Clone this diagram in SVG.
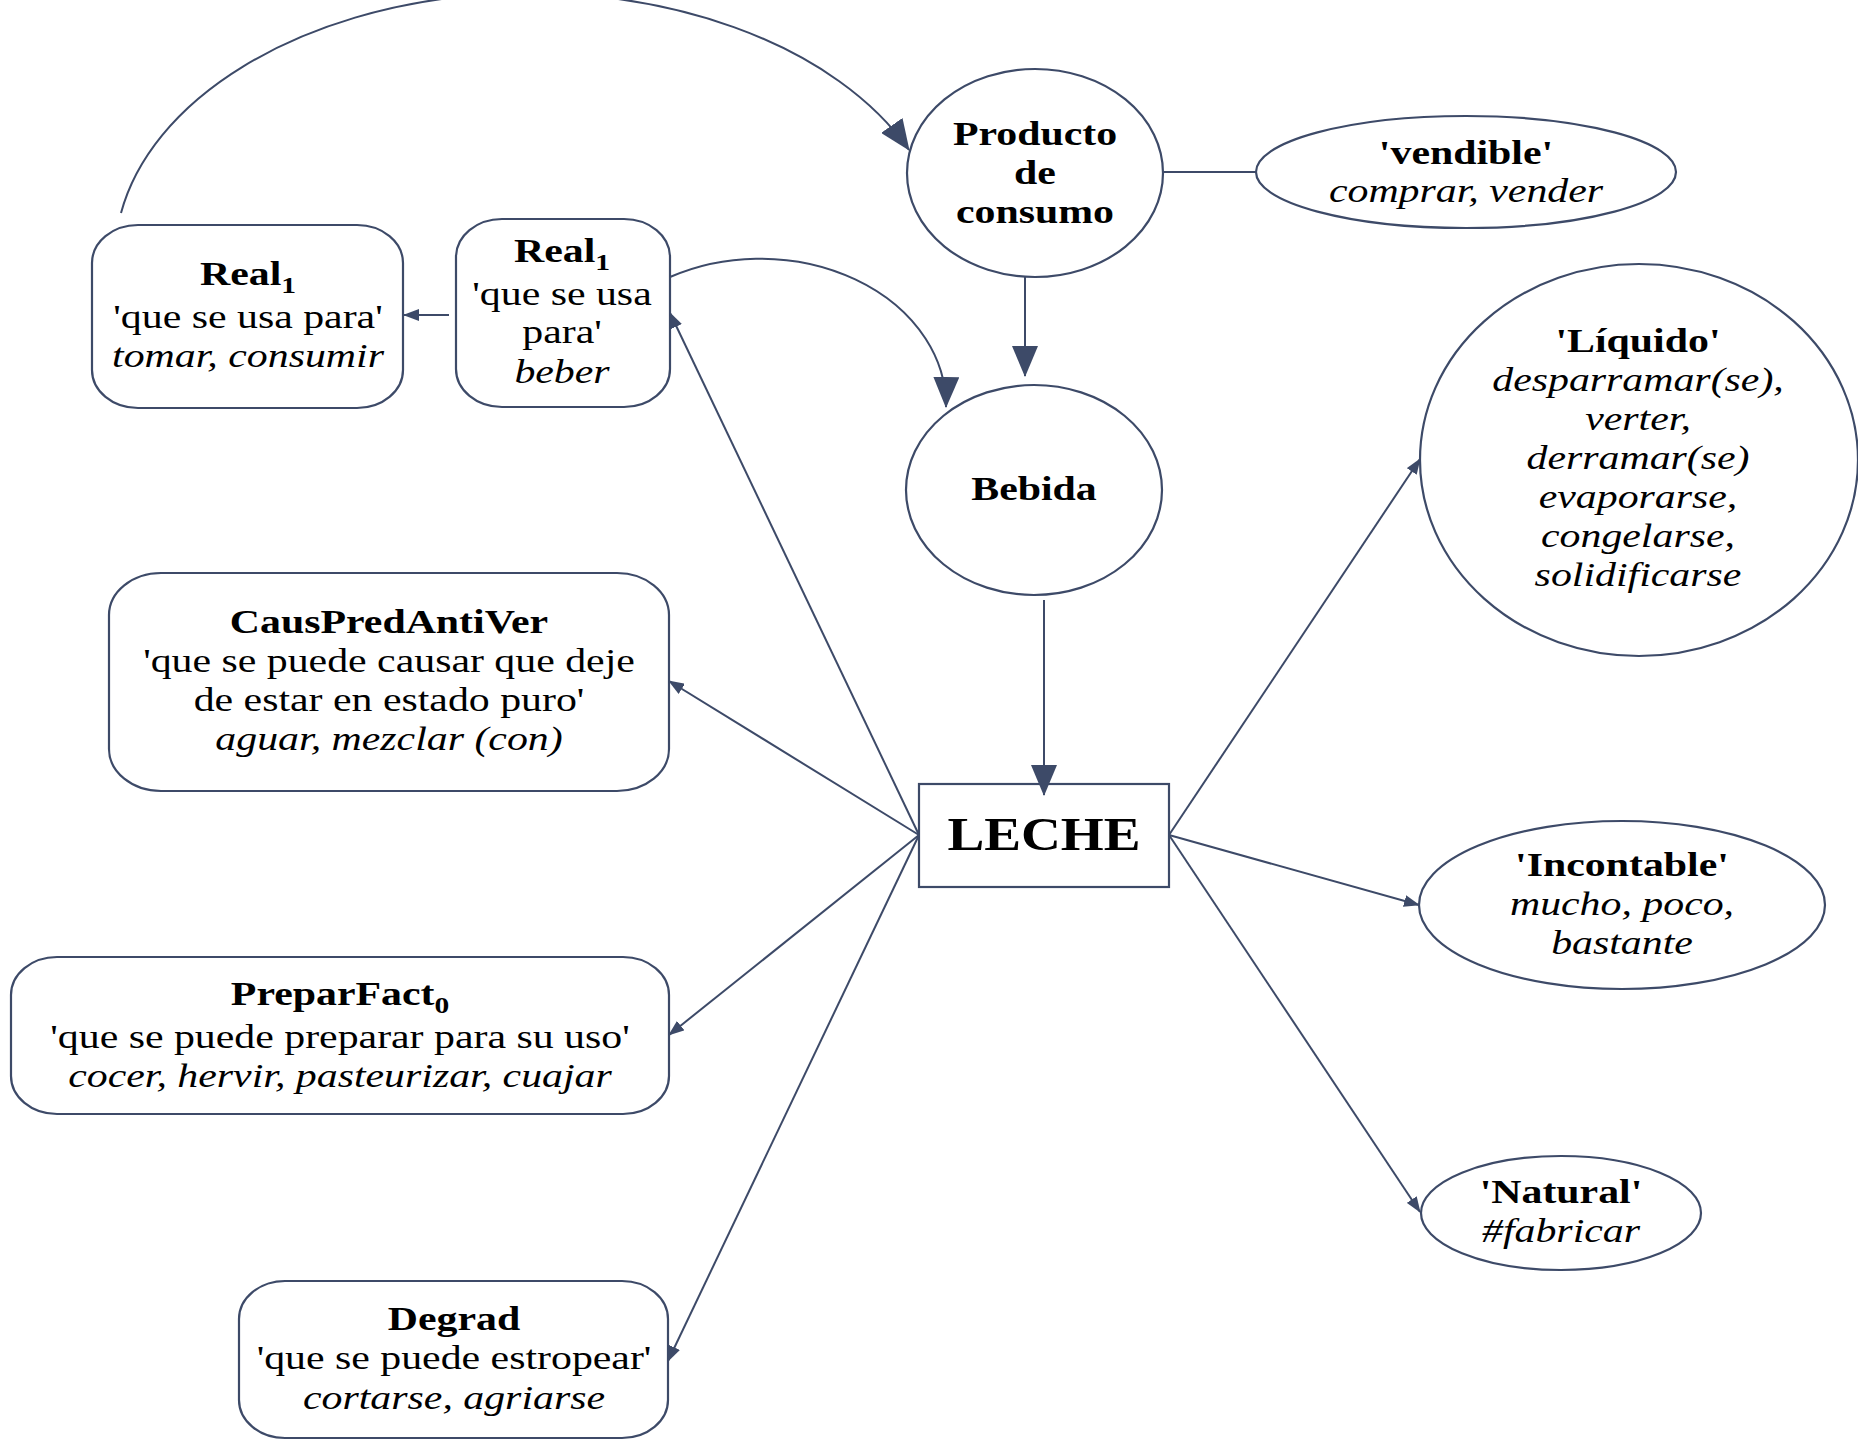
<svg xmlns="http://www.w3.org/2000/svg" width="1858" height="1440" viewBox="0 0 1858 1440">
<style>
.shape{fill:#fff;stroke:#3d4a68;stroke-width:2.2}
.edge{fill:none;stroke:#3d4a68;stroke-width:2}
.t{font-family:"Liberation Serif","Times New Roman",serif;font-size:34px;fill:#000;text-anchor:middle}
.b{font-weight:bold}
.i{font-style:italic}
.sub{font-size:24px}
</style>
<defs>
<marker id="big" viewBox="0 0 31 26" refX="30" refY="13" markerWidth="31" markerHeight="26" orient="auto" markerUnits="userSpaceOnUse"><path d="M0,0 L31,13 L0,26 z" fill="#3d4a68"/></marker>
<marker id="small" viewBox="0 0 16 12" refX="15" refY="6" markerWidth="16" markerHeight="12" orient="auto" markerUnits="userSpaceOnUse"><path d="M0,0 L16,6 L0,12 z" fill="#3d4a68"/></marker>
</defs>
<rect width="1858" height="1440" fill="#fff"/>
<g id="real1-left">
<rect class="shape" x="92" y="225" width="311" height="183" rx="46" ry="38"/>
<text class="t" transform="translate(248 0) scale(1.23 1)"><tspan class="b" x="0" y="285">Real<tspan class="sub" dy="8">1</tspan></tspan><tspan x="0" y="328">'que se usa para'</tspan><tspan class="i" x="0" y="367">tomar, consumir</tspan></text>
</g>
<g id="real1-mid">
<rect class="shape" x="456" y="219" width="214" height="188" rx="46" ry="38"/>
<text class="t" transform="translate(562 0) scale(1.23 1)"><tspan class="b" x="0" y="262">Real<tspan class="sub" dy="8">1</tspan></tspan><tspan x="0" y="305">'que se usa</tspan><tspan x="0" y="343">para'</tspan><tspan class="i" x="0" y="383">beber</tspan></text>
</g>
<g id="producto">
<ellipse class="shape" cx="1035" cy="173" rx="128" ry="104"/>
<text class="t b" transform="translate(1035 0) scale(1.23 1)"><tspan x="0" y="145">Producto</tspan><tspan x="0" y="184">de</tspan><tspan x="0" y="223">consumo</tspan></text>
</g>
<g id="vendible">
<ellipse class="shape" cx="1466" cy="172" rx="210" ry="56"/>
<text class="t" transform="translate(1466 0) scale(1.23 1)"><tspan class="b" x="0" y="164">'vendible'</tspan><tspan class="i" x="0" y="202">comprar, vender</tspan></text>
</g>
<g id="bebida">
<ellipse class="shape" cx="1034" cy="490" rx="128" ry="105"/>
<text class="t b" transform="translate(1034 0) scale(1.23 1)" x="0" y="500">Bebida</text>
</g>
<g id="leche">
<rect class="shape" x="919" y="784" width="250" height="103"/>
<text class="t b" style="font-size:46px" transform="translate(1044 0) scale(1.2 1)" x="0" y="850">LECHE</text>
</g>
<g id="liquido">
<ellipse class="shape" cx="1639" cy="460" rx="219" ry="196"/>
<text class="t" transform="translate(1638 0) scale(1.23 1)"><tspan class="b" x="0" y="352">'Líquido'</tspan><tspan class="i" x="0" y="391">desparramar(se),</tspan><tspan class="i" x="0" y="430">verter,</tspan><tspan class="i" x="0" y="469">derramar(se)</tspan><tspan class="i" x="0" y="508">evaporarse,</tspan><tspan class="i" x="0" y="547">congelarse,</tspan><tspan class="i" x="0" y="586">solidificarse</tspan></text>
</g>
<g id="incontable">
<ellipse class="shape" cx="1622" cy="905" rx="203" ry="84"/>
<text class="t" transform="translate(1622 0) scale(1.23 1)"><tspan class="b" x="0" y="876">'Incontable'</tspan><tspan class="i" x="0" y="915">mucho, poco,</tspan><tspan class="i" x="0" y="954">bastante</tspan></text>
</g>
<g id="natural">
<ellipse class="shape" cx="1561" cy="1213" rx="140" ry="57"/>
<text class="t" transform="translate(1561 0) scale(1.23 1)"><tspan class="b" x="0" y="1203">'Natural'</tspan><tspan class="i" x="0" y="1242">#fabricar</tspan></text>
</g>
<g id="causpredantiver">
<rect class="shape" x="109" y="573" width="560" height="218" rx="52" ry="42"/>
<text class="t" transform="translate(389 0) scale(1.23 1)"><tspan class="b" x="0" y="633">CausPredAntiVer</tspan><tspan x="0" y="672">'que se puede causar que deje</tspan><tspan x="0" y="711">de estar en estado puro'</tspan><tspan class="i" x="0" y="750">aguar, mezclar (con)</tspan></text>
</g>
<g id="preparfact">
<rect class="shape" x="11" y="957" width="658" height="157" rx="46" ry="38"/>
<text class="t" transform="translate(340 0) scale(1.23 1)"><tspan class="b" x="0" y="1005">PreparFact<tspan class="sub" dy="8">0</tspan></tspan><tspan x="0" y="1048">'que se puede preparar para su uso'</tspan><tspan class="i" x="0" y="1087">cocer, hervir, pasteurizar, cuajar</tspan></text>
</g>
<g id="degrad">
<rect class="shape" x="239" y="1281" width="429" height="157" rx="46" ry="38"/>
<text class="t" transform="translate(454 0) scale(1.23 1)"><tspan class="b" x="0" y="1330">Degrad</tspan><tspan x="0" y="1369">'que se puede estropear'</tspan><tspan class="i" x="0" y="1409">cortarse, agriarse</tspan></text>
</g>
<g id="connectors">
<path class="edge" d="M121,213 A415,265 0 0 1 909,150" marker-end="url(#big)"/>
<path class="edge" d="M1025,277 L1025,376" marker-end="url(#big)"/>
<path class="edge" d="M1044,600 L1044,795" marker-end="url(#big)"/>
<path class="edge" d="M670,277 A186,147 0 0 1 946,407" marker-end="url(#big)"/>
<path class="edge" d="M449,315 L404,315" marker-end="url(#small)"/>
<path class="edge" d="M1163,172 L1256,172"/>
<path class="edge" d="M919,835 L670,313" marker-end="url(#small)"/>
<path class="edge" d="M919,835 L669,681" marker-end="url(#small)"/>
<path class="edge" d="M919,835 L669,1035" marker-end="url(#small)"/>
<path class="edge" d="M919,835 L668,1361" marker-end="url(#small)"/>
<path class="edge" d="M1169,835 L1420,459" marker-end="url(#small)"/>
<path class="edge" d="M1169,835 L1419,905" marker-end="url(#small)"/>
<path class="edge" d="M1169,835 L1420,1212" marker-end="url(#small)"/>
</g>
</svg>
